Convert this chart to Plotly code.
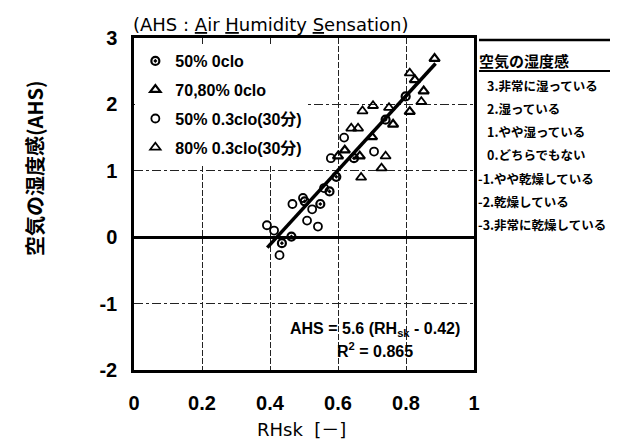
import numpy as np
import plotly.graph_objects as go

# ---- data ----
s1_name = "50% 0clo"
s1_x = [0.435, 0.463, 0.502, 0.548, 0.575, 0.595, 0.647, 0.740, 0.799]
s1_y = [-0.09, 0.01, 0.54, 0.50, 0.69, 0.91, 1.19, 1.77, 2.12]

s2_name = "70,80% 0clo"
s2_x = [0.600, 0.620, 0.664, 0.700, 0.762, 0.811, 0.826, 0.852, 0.884]
s2_y = [1.22, 1.31, 1.22, 1.51, 1.70, 1.89, 2.37, 2.20, 2.69]

s3_name = "50% 0.3clo(30分)"
s3_x = [0.391, 0.412, 0.428, 0.466, 0.497, 0.509, 0.524, 0.541, 0.559, 0.579, 0.618, 0.706]
s3_y = [0.18, 0.10, -0.27, 0.50, 0.59, 0.25, 0.42, 0.16, 0.74, 1.19, 1.50, 1.29]

s4_name = "80% 0.3clo(30分)"
s4_x = [0.639, 0.659, 0.668, 0.672, 0.703, 0.728, 0.740, 0.750, 0.811, 0.845]
s4_y = [1.64, 1.64, 0.90, 1.90, 1.98, 1.04, 1.22, 1.95, 2.47, 2.04]

fit_slope = 5.6
fit_offset = 0.42
fit_xrange = [0.392, 0.887]
fit_r2 = 0.865

x_ticks = [0, 0.2, 0.4, 0.6, 0.8, 1]
x_ticklabels = ["0", "0.2", "0.4", "0.6", "0.8", "1"]
y_ticks = [-2, -1, 0, 1, 2, 3]
y_ticklabels = ["-2", "-1", "0", "1", "2", "3"]

scale_title = "空気の湿度感"
scale_items = ["3.非常に湿っている", "2.湿っている", "1.やや湿っている", "0.どちらでもない",
               "-1.やや乾燥している", "-2.乾燥している", "-3.非常に乾燥している"]

LAT = "Liberation Sans, Noto Sans CJK JP, sans-serif"
DJV = "DejaVu Sans, Noto Sans CJK JP, sans-serif"
JP = "Noto Sans CJK JP, sans-serif"

fig = go.Figure()

series = [
    (s1_name, s1_x, s1_y, "circle-open-dot", 8, 2.2),
    (s2_name, s2_x, s2_y, "triangle-up-open", 9, 2.2),
    (s3_name, s3_x, s3_y, "circle-open", 8, 1.8),
    (s4_name, s4_x, s4_y, "triangle-up-open", 9, 1.8),
]
for i, (nm, xs, ys, sym, sz, lw) in enumerate(series):
    fig.add_trace(go.Scatter(
        x=xs, y=ys, mode="markers", name=nm, legendgroup=f"g{i}",
        marker=dict(symbol=sym, size=sz, color="black", line=dict(color="black", width=lw)),
    ))

fx = np.array(fit_xrange)
fy = fit_slope * (fx - fit_offset)
fig.add_trace(go.Scatter(x=fx, y=fy, mode="lines", line=dict(color="black", width=3.5),
                         showlegend=False, hoverinfo="skip"))

fig.update_layout(
    width=618, height=442,
    margin=dict(l=126, r=152, t=30, b=80),
    paper_bgcolor="white", plot_bgcolor="white",
    showlegend=True,
    legend=dict(x=0.004, y=0.982, xanchor="left", yanchor="top",
                bgcolor="white", borderwidth=0,
                font=dict(family=LAT, size=16, color="black", weight="bold"),
                tracegroupgap=5, traceorder="grouped",
                itemwidth=30),
    font=dict(family=LAT, color="black"),
)

fig.update_xaxes(
    range=[0, 1], tickvals=x_ticks, ticktext=x_ticklabels,
    showline=True, linewidth=2.5, linecolor="black", mirror=True,
    showgrid=True, gridcolor="#222", gridwidth=1, griddash="6px,2px",
    zeroline=False, ticks="", ticklabelstandoff=13,
    tickfont=dict(family=LAT, size=20, color="black", weight="bold"),
)
fig.update_yaxes(
    range=[-2, 3], tickvals=y_ticks, ticktext=y_ticklabels,
    showline=True, linewidth=2.5, linecolor="black", mirror=True,
    showgrid=True, gridcolor="#222", gridwidth=1, griddash="dashdot",
    zeroline=True, zerolinecolor="black", zerolinewidth=2.5,
    ticks="", ticklabelstandoff=10,
    tickfont=dict(family=LAT, size=20, color="black", weight="bold"),
)

def px2paper_x(px):
    return (px - 126) / 340.0

def px2paper_y(py):
    return (362 - py) / 332.0

ann = []
ann.append(dict(xref="paper", yref="paper", x=px2paper_x(123), y=px2paper_y(17),
                xanchor="left", yanchor="middle",
                text="(AHS : <u>A</u>ir <u>H</u>umidity <u>S</u>ensation)", showarrow=False,
                font=dict(family=DJV, size=18, color="black")))
ann.append(dict(xref="paper", yref="paper", x=px2paper_x(26), y=px2paper_y(160),
                xanchor="center", yanchor="middle",
                text="空気の湿度感(AHS)", textangle=-90, showarrow=False,
                font=dict(family=JP, size=20, color="black", weight="bold")))
ann.append(dict(xref="paper", yref="paper", x=px2paper_x(293), y=px2paper_y(421),
                xanchor="center", yanchor="middle",
                text="RHsk  [－]", showarrow=False,
                font=dict(family=DJV, size=18, color="black")))
ann.append(dict(xref="x", yref="y", x=0.71, y=-1.39, xanchor="center", yanchor="middle",
                text=f"AHS = {fit_slope} (RH<sub>sk</sub> - {fit_offset})", showarrow=False,
                font=dict(family=LAT, size=16, color="black", weight="bold")))
ann.append(dict(xref="x", yref="y", x=0.71, y=-1.70, xanchor="center", yanchor="middle",
                text=f"R<sup>2</sup> = {fit_r2}", showarrow=False,
                font=dict(family=LAT, size=16, color="black", weight="bold")))

ann.append(dict(xref="paper", yref="paper", x=px2paper_x(469), y=px2paper_y(52),
                xanchor="left", yanchor="middle", text=scale_title, showarrow=False,
                font=dict(family=JP, size=15, color="black", weight="bold")))
for k, t in enumerate(scale_items):
    xpx = 468 if t.startswith("-") else 477
    ann.append(dict(xref="paper", yref="paper", x=px2paper_x(xpx), y=px2paper_y(77 + 23.3 * k),
                    xanchor="left", yanchor="middle", text=t, showarrow=False,
                    font=dict(family=JP, size=12.5, color="black", weight="bold")))
fig.update_layout(annotations=ann)

shapes = [
    dict(type="line", xref="paper", yref="paper", x0=px2paper_x(471), x1=px2paper_x(612),
         y0=px2paper_y(32), y1=px2paper_y(32), line=dict(color="black", width=2.5)),
    dict(type="line", xref="paper", yref="paper", x0=px2paper_x(471), x1=px2paper_x(612),
         y0=px2paper_y(63), y1=px2paper_y(63), line=dict(color="black", width=2)),
]
fig.update_layout(shapes=shapes)

fig.write_html("out.html")
